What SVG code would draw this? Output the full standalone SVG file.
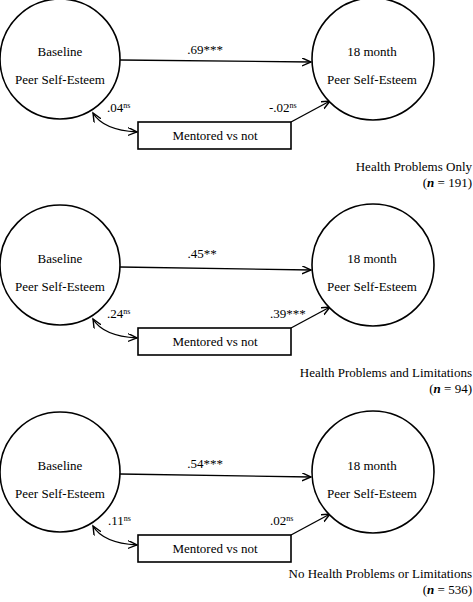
<svg xmlns="http://www.w3.org/2000/svg" width="473" height="602" viewBox="0 0 473 602" font-family="'Liberation Serif', 'DejaVu Serif', serif" font-size="13">
<style>
text{font-family:"Liberation Serif","DejaVu Serif",serif;font-size:13px;fill:#000}
.node{fill:#fff;stroke:#000;stroke-width:1.6}
.edge{fill:none;stroke:#000;stroke-width:1.4}
.sup{font-size:8px}
.n{font-style:italic;font-weight:bold}
</style>
<defs>
<marker id="ah" markerUnits="userSpaceOnUse" markerWidth="12" markerHeight="12" refX="9" refY="4" orient="auto-start-reverse">
<path d="M0,0 L9,4 L0,8" fill="none" stroke="#000" stroke-width="1.4"/>
</marker>
</defs>
<rect width="473" height="602" fill="#fff"/>

<!-- Panel 1 -->
<g id="panel1">
<g id="edges1">
<path class="edge" d="M120,60 L311,62" marker-end="url(#ah)"/>
<path class="edge" d="M291,122 L330,101" marker-end="url(#ah)"/>
<path class="edge" d="M93,113 Q103,130 137,132" marker-start="url(#ah)" marker-end="url(#ah)"/>
</g>
<g id="baseline1"><circle class="node" cx="60" cy="59" r="60"/><text x="60" y="56" text-anchor="middle">Baseline</text><text x="60" y="84" text-anchor="middle">Peer Self-Esteem</text></g>
<g id="month1"><circle class="node" cx="373" cy="59" r="61"/><text x="372" y="56" text-anchor="middle">18 month</text><text x="372" y="84" text-anchor="middle">Peer Self-Esteem</text></g>
<g id="mentored1"><rect class="node" x="138" y="122" width="153" height="27"/><text x="215" y="140" text-anchor="middle">Mentored vs not</text></g>
<text x="205" y="54" text-anchor="middle">.69***</text>
<text x="107" y="112">.04<tspan class="sup" dy="-4">ns</tspan></text>
<text x="269" y="112">-.02<tspan class="sup" dy="-4">ns</tspan></text>
<text x="472" y="171" text-anchor="end">Health Problems Only</text>
<text x="472" y="187" text-anchor="end">(<tspan class="n">n</tspan> = 191)</text>
</g>

<!-- Panel 2 -->
<g id="panel2" transform="translate(0,206)">
<g id="edges2">
<path class="edge" d="M120,61 L311,64" marker-end="url(#ah)"/>
<path class="edge" d="M291,122 L330,101" marker-end="url(#ah)"/>
<path class="edge" d="M93,113 Q103,130 137,132" marker-start="url(#ah)" marker-end="url(#ah)"/>
</g>
<g id="baseline2"><circle class="node" cx="60" cy="59" r="60"/><text x="60" y="57" text-anchor="middle">Baseline</text><text x="60" y="85" text-anchor="middle">Peer Self-Esteem</text></g>
<g id="month2"><circle class="node" cx="373" cy="59" r="61"/><text x="372" y="57" text-anchor="middle">18 month</text><text x="372" y="85" text-anchor="middle">Peer Self-Esteem</text></g>
<g id="mentored2"><rect class="node" x="138" y="122" width="153" height="27"/><text x="215" y="140" text-anchor="middle">Mentored vs not</text></g>
<text x="202" y="52" text-anchor="middle">.45**</text>
<text x="107" y="112">.24<tspan class="sup" dy="-4">ns</tspan></text>
<text x="270" y="112">.39***</text>
<text x="472" y="171" text-anchor="end">Health Problems and Limitations</text>
<text x="472" y="187" text-anchor="end">(<tspan class="n">n</tspan> = 94)</text>
</g>

<!-- Panel 3 -->
<g id="panel3" transform="translate(0,413)">
<g id="edges3">
<path class="edge" d="M120,61 L311,64" marker-end="url(#ah)"/>
<path class="edge" d="M291,122 L330,101" marker-end="url(#ah)"/>
<path class="edge" d="M93,113 Q103,130 137,132" marker-start="url(#ah)" marker-end="url(#ah)"/>
</g>
<g id="baseline3"><circle class="node" cx="60" cy="59" r="60"/><text x="60" y="57" text-anchor="middle">Baseline</text><text x="60" y="85" text-anchor="middle">Peer Self-Esteem</text></g>
<g id="month3"><circle class="node" cx="373" cy="59" r="61"/><text x="372" y="57" text-anchor="middle">18 month</text><text x="372" y="85" text-anchor="middle">Peer Self-Esteem</text></g>
<g id="mentored3"><rect class="node" x="138" y="122" width="153" height="27"/><text x="215" y="140" text-anchor="middle">Mentored vs not</text></g>
<text x="205" y="55" text-anchor="middle">.54***</text>
<text x="108" y="112">.11<tspan class="sup" dy="-4">ns</tspan></text>
<text x="270" y="112">.02<tspan class="sup" dy="-4">ns</tspan></text>
<text x="472" y="165" text-anchor="end">No Health Problems or Limitations</text>
<text x="472" y="181" text-anchor="end">(<tspan class="n">n</tspan> = 536)</text>
</g>
</svg>
